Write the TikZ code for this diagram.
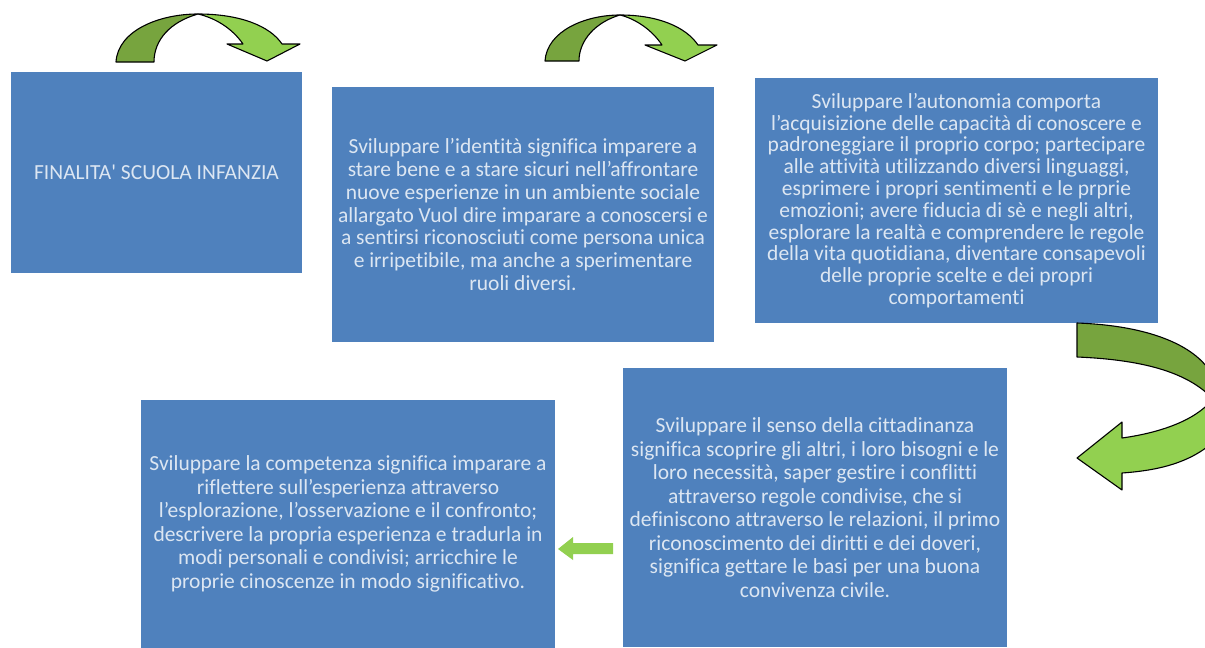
\documentclass[tikz,border=0pt]{standalone}
\usepackage{fontspec}
\setmainfont{Carlito}[Ligatures=NoCommon]
\definecolor{boxblue}{HTML}{4F81BD}
\definecolor{txtc}{HTML}{DCE6F2}
\definecolor{gdark}{HTML}{77A43E}
\definecolor{glight}{HTML}{92D050}
\tikzset{
  bx/.style={rectangle, fill=boxblue, text=txtc, align=center, inner sep=0pt},
  garrow/.style={draw=black, line width=1.1pt, line join=round},
}
\begin{document}
\begin{tikzpicture}[x=1pt,y=-1pt]
\useasboundingbox (0,0) rectangle (1205,648);
% boxes
\node[bx, minimum width=291, minimum height=201, font=\fontsize{21.5}{23}\selectfont] (b1) at (156.5,172.5) {FINALITA\textquotesingle{} SCUOLA INFANZIA};
\node[bx, minimum width=382, minimum height=255, font=\fontsize{21.5}{23}\selectfont] (b2) at (523,214.5) {Sviluppare l’identità significa imparere a\\stare bene e a stare sicuri nell’affrontare\\nuove esperienze in un ambiente sociale\\allargato Vuol dire imparare a conoscersi e\\a sentirsi riconosciuti come persona unica\\e irripetibile, ma anche a sperimentare\\ruoli diversi.};
\node[bx, minimum width=403, minimum height=245, font=\fontsize{21.5}{21.8}\selectfont] (b3) at (956.5,200.5) {Sviluppare l’autonomia comporta\\l’acquisizione delle capacità di conoscere e\\padroneggiare il proprio corpo; partecipare\\alle attività utilizzando diversi linguaggi,\\esprimere i propri sentimenti e le prprie\\emozioni; avere fiducia di sè e negli altri,\\esplorare la realtà e comprendere le regole\\della vita quotidiana, diventare consapevoli\\delle proprie scelte e dei propri\\comportamenti};
\node[bx, minimum width=384, minimum height=279, font=\fontsize{21.5}{23.5}\selectfont] (b4) at (815,507.5) {Sviluppare il senso della cittadinanza\\significa scoprire gli altri, i loro bisogni e le\\loro necessità, saper gestire i conflitti\\attraverso regole condivise, che si\\definiscono attraverso le relazioni, il primo\\riconoscimento dei diritti e dei doveri,\\significa gettare le basi per una buona\\convivenza civile.};
\node[bx, minimum width=414, minimum height=248, font=\fontsize{21.5}{23.5}\selectfont] (b5) at (348,524) {Sviluppare la competenza significa imparare a\\riflettere sull’esperienza attraverso\\l’esplorazione, l’osservazione e il confronto;\\descrivere la propria esperienza e tradurla in\\modi personali e condivisi; arricchire le\\proprie cinoscenze in modo significativo.};
% top curved arrow 1
\draw[garrow, fill=gdark] (116,62) .. controls (118,30) and (160,14) .. (198,14) .. controls (170,22) and (154,40) .. (154,62) -- cycle;
\draw[garrow, fill=glight] (198,14) .. controls (240,14) and (270,26) .. (282,44) -- (300,44) -- (267,61) -- (227,44) -- (243,44) .. controls (232,28) and (215,18) .. (198,14) -- cycle;
% top curved arrow 2
\draw[garrow, fill=gdark] (545,61) .. controls (547,31) and (585,15) .. (620,15) .. controls (596,22) and (579,40) .. (579,61) -- cycle;
\draw[garrow, fill=glight] (620,15) .. controls (658,15) and (686,27) .. (698,45) -- (717,45) -- (685,61) -- (645,45) -- (662,45) .. controls (652,30) and (636,19) .. (620,15) -- cycle;
% big right curved arrow
\begin{scope}
\clip (0,0) rectangle (1205,648);
\draw[garrow, fill=gdark] (1077,323) .. controls (1160,326) and (1212,352) .. (1218,392) -- (1218,405) .. controls (1195,375) and (1150,360) .. (1077,357) -- cycle;
\draw[garrow, fill=glight] (1122,438) .. controls (1165,432) and (1200,418) .. (1215,396) -- (1225,396) -- (1225,430) .. controls (1200,460) and (1165,470) .. (1122,473) -- (1122,490) -- (1077,458) -- (1122,422) -- cycle;
\end{scope}
% small left arrow
\fill[glight] (613,543) -- (573,543) -- (573,537) -- (558,549) -- (573,560) -- (573,554) -- (613,554) -- cycle;
\end{tikzpicture}
\end{document}
